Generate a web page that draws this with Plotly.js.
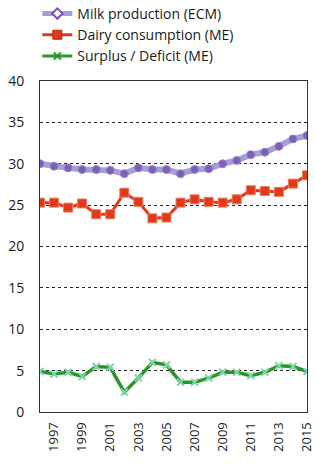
<!DOCTYPE html>
<html>
<head>
<meta charset="utf-8">
<script src="https://cdn.plot.ly/plotly-3.0.1.min.js"></script>
<style>html,body{margin:0;padding:0;background:#fff;}#chart{width:315px;height:465px;}</style>
</head>
<body>
<div id="chart"></div>
<script>
const years = [1996,1997,1998,1999,2000,2001,2002,2003,2004,2005,2006,2007,2008,2009,2010,2011,2012,2013,2014,2015];
const milkProduction = [30.0,29.7,29.5,29.3,29.3,29.2,28.8,29.5,29.3,29.3,28.8,29.3,29.4,30.0,30.4,31.1,31.4,32.1,33.0,33.4];
const dairyConsumption = [25.3,25.3,24.7,25.2,23.9,23.9,26.5,25.4,23.4,23.5,25.3,25.7,25.4,25.3,25.7,26.8,26.7,26.6,27.6,28.6];
const surplusDeficit = [4.9,4.6,4.8,4.3,5.5,5.4,2.4,4.1,6.0,5.7,3.6,3.6,4.1,4.8,4.8,4.4,4.8,5.6,5.5,4.9];
const xTickVals = [1997,1999,2001,2003,2005,2007,2009,2011,2013,2015];
const yTickVals = [0,5,10,15,20,25,30,35,40];
const seriesNames = ['Milk production (ECM)','Dairy consumption (ME)','Surplus / Deficit (ME)'];

const traces = [
  {x: years, y: milkProduction, mode: 'lines+markers', name: seriesNames[0], showlegend: false,
   line: {color: '#a49fd8', width: 6}, marker: {symbol: 'circle', size: 8, color: '#7d5fb5', line: {color: '#9a86cc', width: 1}}},
  {x: years, y: dairyConsumption, mode: 'lines+markers', name: seriesNames[1], showlegend: false,
   line: {color: '#e8361a', width: 3}, marker: {symbol: 'square', size: 9, color: '#de3a1c', line: {color: '#f07a5a', width: 1}}},
  {x: years, y: surplusDeficit, mode: 'lines+markers', name: seriesNames[2], showlegend: false,
   line: {color: '#2a962a', width: 3.5}, marker: {symbol: 'x-thin', size: 7, color: '#8fe0b8', line: {color: '#7fd6ae', width: 2}}},
  {x: [null], y: [null], mode: 'lines+markers', name: seriesNames[0],
   line: {color: '#a49fd8', width: 5}, marker: {symbol: 'diamond', size: 8, color: '#ffffff', line: {color: '#7d4fb5', width: 2}}},
  {x: [null], y: [null], mode: 'lines+markers', name: seriesNames[1],
   line: {color: '#e8361a', width: 3}, marker: {symbol: 'square', size: 9, color: '#de3a1c', line: {color: '#b02a10', width: 1}}},
  {x: [null], y: [null], mode: 'lines+markers', name: seriesNames[2],
   line: {color: '#2a962a', width: 3}, marker: {symbol: 'x-thin', size: 7, color: '#2a962a', line: {color: '#2a962a', width: 2}}}
];

const layout = {
  width: 315, height: 465,
  margin: {l: 40, r: 8, t: 81, b: 53, autoexpand: false},
  paper_bgcolor: '#ffffff', plot_bgcolor: '#ffffff',
  font: {family: 'Open Sans, sans-serif', size: 13, color: '#1a1a1a'},
  showlegend: true,
  legend: {x: -0.01, xanchor: 'left', y: 1.251, yanchor: 'top', bgcolor: 'rgba(0,0,0,0)',
           font: {size: 14, color: '#1a1a1a'}, itemwidth: 30, tracegroupgap: 0},
  xaxis: {range: [1995.999, 2015.001], tickvals: xTickVals, ticktext: xTickVals.map(String), tickangle: -90,
          showgrid: false, zeroline: false, showline: true, mirror: true, linecolor: '#333', linewidth: 1,
          ticks: '', ticklabelstandoff: 4, ticklabeloverflow: 'allow', tickfont: {size: 13}},
  yaxis: {range: [0, 40], tickvals: yTickVals, showgrid: true, gridcolor: '#222', griddash: 'dot', gridwidth: 1,
          zeroline: false, showline: true, mirror: true, linecolor: '#333', linewidth: 1,
          ticks: '', ticklabelstandoff: 12, tickfont: {size: 14}}
};

Plotly.newPlot('chart', traces, layout, {displayModeBar: false, staticPlot: true});
</script>
</body>
</html>
